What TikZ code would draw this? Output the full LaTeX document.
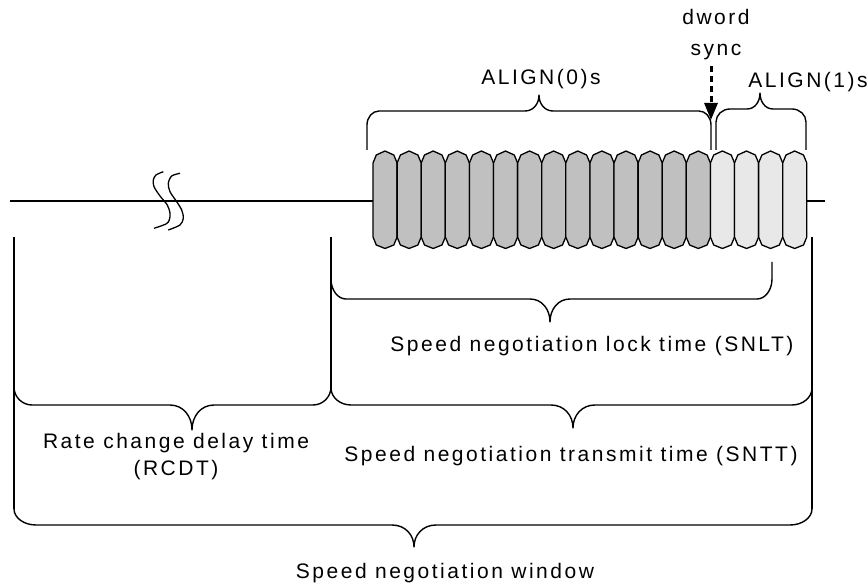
\documentclass[tikz,border=0pt]{standalone}
\usepackage{fontspec}
\newfontfamily\lblfont{Liberation Sans}[LetterSpace=12]
\usetikzlibrary{arrows.meta}
\definecolor{blkdark}{RGB}{192,192,192}
\definecolor{blklight}{RGB}{232,232,232}

% brace: L R E H T P rh rv d
% legs at x=L and x=R run from y=E to the corner, horizontal at y=H,
% tip at (T,P), corner radii rh/rv (rv signed towards the legs), tip half-width d
\newcommand\timebrace[9]{%
  \draw[bracestyle] (#1,#3) -- (#1,{#4+#8})
    .. controls (#1,{#4+0.45*#8}) and ({#1+0.45*#7},#4) .. ({#1+#7},#4)
    -- ({#5-#9},#4)
    .. controls ({#5-0.4*#9},#4) and (#5,{#4+0.45*(#6-#4)}) .. (#5,#6)
    .. controls (#5,{#4+0.45*(#6-#4)}) and ({#5+0.4*#9},#4) .. ({#5+#9},#4)
    -- ({#2-#7},#4)
    .. controls ({#2-0.45*#7},#4) and (#2,{#4+0.45*#8}) .. (#2,{#4+#8})
    -- (#2,#3);}

% one transmitted dword: pointed top and bottom
\newcommand\dwordblock[2]{%
  \draw[blockstyle,fill=#2] (#1,163) -- ({#1+3.3},155) -- ({#1+12},151) -- ({#1+20.8},155)
    -- ({#1+24.1},163) -- ({#1+24.1},237) -- ({#1+20.8},245) -- ({#1+12},248.5)
    -- ({#1+3.3},245) -- (#1,237) -- cycle;}

\begin{document}
\begin{tikzpicture}[x=1pt,y=-1pt,
  bracestyle/.style={line width=1.4pt,line join=round},
  wire/.style={line width=1.3pt},
  blockstyle/.style={line width=1.3pt,line join=round},
  lbl/.style={font=\lblfont\fontsize{21}{28}\selectfont,inner sep=0pt,anchor=base,align=center},
  syncarrow/.style={line width=3pt,dash pattern=on 6pt off 4pt,-{Triangle[width=13pt,length=17pt]}}]
\useasboundingbox (0,0) rectangle (868,585);

% signal line with break marks
\draw[wire] (10,201) -- (373,201);
\draw[wire] (806,201) -- (825,201);
\draw[wire] plot[smooth] coordinates {(163.3,171.7) (156,175) (153.3,180) (154,186.7) (160,196) (167.3,205) (170,213.3) (169.3,220) (166,224) (154,228.3)};
\draw[wire] plot[smooth] coordinates {(180,173.3) (171.7,176) (168.3,183.3) (170,191.7) (176.7,201.7) (181.7,210) (183.3,218.3) (180,225) (168.3,230)};

% ALIGN(0) and ALIGN(1) dwords
\foreach \i in {0,...,13} {\dwordblock{373+24.1*\i}{blkdark}}
\foreach \i in {14,...,17} {\dwordblock{373+24.1*\i}{blklight}}

% upper braces and labels
\timebrace{367}{711}{150}{111}{539}{95}{12}{14}{14}
\timebrace{716}{806}{150}{109}{760}{93}{14}{13}{13}
\node[lbl] (align0) at (541,85) {ALIGN(0)s};
\node[lbl] (align1) at (808,88) {ALIGN(1)s};
\node[lbl] (dword) at (716,25) {dword};
\node[lbl] (sync) at (716,56) {sync};
\coordinate (synctop) at (711,66);
\coordinate (syncpt) at (711,120);
\draw[syncarrow] (synctop) -- (syncpt);

% time boundaries
\draw[wire] (14,237) -- (14,509);
\draw[wire] (331,237) -- (331,388);
\draw[wire] (812,237) -- (812,509);

% lower braces
\timebrace{331}{772}{262}{299}{550}{322}{15}{-20}{20}
\timebrace{14}{331}{387}{405}{192}{430}{18}{-18}{22}
\timebrace{331}{812}{387}{405}{573}{428}{20}{-17}{22}
\timebrace{14}{812}{509}{525}{414}{547}{22}{-16}{22}

\node[lbl] (snlt) at (592,352) {Speed negotiation lock time (SNLT)};
\node[lbl] (rcdt) at (176,448) {Rate change delay time};
\node[lbl] (rcdtb) at (176,475) {(RCDT)};
\node[lbl] (sntt) at (571,461) {Speed negotiation transmit time (SNTT)};
\node[lbl] (window) at (445,578) {Speed negotiation window};
\end{tikzpicture}
\end{document}
